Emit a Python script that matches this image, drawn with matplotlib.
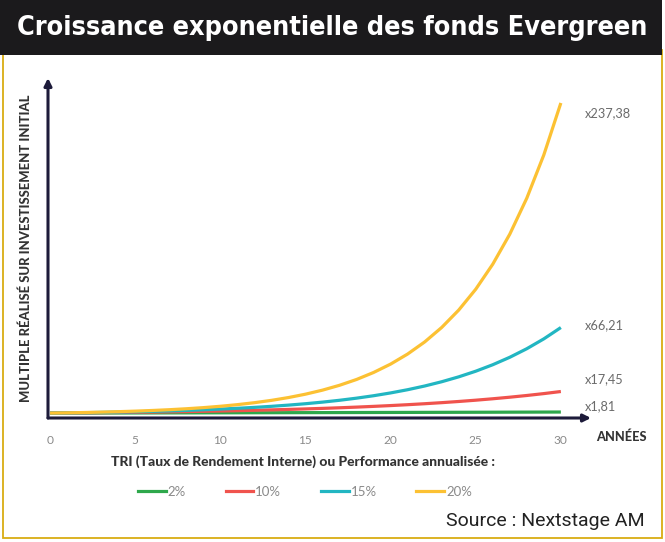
import matplotlib
matplotlib.use("Agg")
import matplotlib.pyplot as plt
from matplotlib.patches import Rectangle
from matplotlib.lines import Line2D
from matplotlib import font_manager as fm

# ---- data ----
years = list(range(0, 31))
series_names = ["2%", "10%", "15%", "20%"]
vals_2 = [1.00, 1.02, 1.04, 1.06, 1.08, 1.10, 1.13, 1.15, 1.17, 1.20, 1.22, 1.24, 1.27, 1.29, 1.32,
          1.35, 1.37, 1.40, 1.43, 1.46, 1.49, 1.52, 1.55, 1.58, 1.61, 1.64, 1.67, 1.71, 1.74, 1.78, 1.81]
vals_10 = [1.00, 1.10, 1.21, 1.33, 1.46, 1.61, 1.77, 1.95, 2.14, 2.36, 2.59, 2.85, 3.14, 3.45, 3.80,
           4.18, 4.59, 5.05, 5.56, 6.12, 6.73, 7.40, 8.14, 8.95, 9.85, 10.83, 11.92, 13.11, 14.42, 15.86, 17.45]
vals_15 = [1.00, 1.15, 1.32, 1.52, 1.75, 2.01, 2.31, 2.66, 3.06, 3.52, 4.05, 4.65, 5.35, 6.15, 7.08,
           8.14, 9.36, 10.76, 12.38, 14.23, 16.37, 18.82, 21.64, 24.89, 28.63, 32.92, 37.86, 43.54, 50.07, 57.58, 66.21]
vals_20 = [1.00, 1.20, 1.44, 1.73, 2.07, 2.49, 2.99, 3.58, 4.30, 5.16, 6.19, 7.43, 8.92, 10.70, 12.84,
           15.41, 18.49, 22.19, 26.62, 31.95, 38.34, 46.01, 55.21, 66.25, 79.50, 95.40, 114.48, 137.37, 164.84, 197.81, 237.38]
end_labels = ["x1,81", "x17,45", "x66,21", "x237,38"]
x_ticks = [0, 5, 10, 15, 20, 25, 30]

title = "Croissance exponentielle des fonds Evergreen"
ylabel = "MULTIPLE RÉALISÉ SUR INVESTISSEMENT INITIAL"
xlabel = "ANNÉES"
legend_title = "TRI (Taux de Rendement Interne) ou Performance annualisée :"
source = "Source : Nextstage AM"

colors = ["#2ea84c", "#f0534d", "#22b6c2", "#fcc133"]
navy = "#1d1b3a"
gray = "#6b6b6b"
dark = "#333333"

# pick a condensed bold font for the title if one is installed
title_fp = None
for f in fm.fontManager.ttflist:
    n = (f.fname + " " + f.name).lower()
    if ("condensed" in n or "narrow" in n) and ("bold" in f.fname.lower() or f.weight in ("bold", 700)):
        if "oblique" in n or "italic" in n:
            continue
        title_fp = fm.FontProperties(fname=f.fname, size=19.4)
        break

W, H = 665, 542
fig = plt.figure(figsize=(W / 100, H / 100), dpi=100)
fig.patch.set_facecolor("white")

def fx(px):
    return px / W

def fy(py):
    return 1 - py / H

# yellow frame
fig.patches.append(Rectangle((fx(3), fy(538)), fx(659), (538 - 50) / H, transform=fig.transFigure,
                             facecolor="none", edgecolor="#d9ad12", lw=1.3, zorder=0))
# title bar
fig.patches.append(Rectangle((0, fy(55)), fx(662), 55 / H, transform=fig.transFigure,
                             facecolor="#1b1a1c", edgecolor="none", zorder=1))
if title_fp is not None:
    fig.text(fx(332), fy(28), title, color="white", ha="center", va="center", fontproperties=title_fp)
else:
    fig.text(fx(332), fy(28), title, color="white", ha="center", va="center",
             family="Roboto", weight="bold", fontsize=19)

ax = fig.add_axes([fx(48), fy(418), fx(591 - 48), (418 - 78) / H])
ax.set_xlim(-0.12, 31.77)
ax.set_ylim(-2.74, 256.4)
for s in ax.spines.values():
    s.set_visible(False)
ax.set_facecolor("none")

all_vals = [vals_2, vals_10, vals_15, vals_20]
offsets = [(17, 4), (17, 9), (17, 2), (17, -7)]
for name, v, c, lab, off in zip(series_names, all_vals, colors, end_labels, offsets):
    ax.plot(years, v, color=c, lw=2.3, solid_capstyle="butt", label=name, zorder=3)
    ax.annotate(lab, xy=(years[-1], v[-1]), xytext=off, textcoords="offset points",
                ha="left", va="center", fontsize=9.2, color=gray, family="Lato")

# axis arrows
ax.annotate("", xy=(1, 0), xytext=(0, 0), xycoords="axes fraction",
            arrowprops=dict(arrowstyle="-|>", color=navy, lw=2.2, mutation_scale=11,
                            shrinkA=0, shrinkB=0), zorder=4)
ax.annotate("", xy=(0, 1), xytext=(0, 0), xycoords="axes fraction",
            arrowprops=dict(arrowstyle="-|>", color=navy, lw=2.2, mutation_scale=11,
                            shrinkA=0, shrinkB=0), zorder=4)

ax.set_xticks(x_ticks)
ax.set_xticklabels([str(t) for t in x_ticks], family="Lato", fontsize=8.6, color="#8a8a8a")
ax.tick_params(axis="x", length=0, pad=12)
ax.set_yticks([])

fig.text(fx(26), fy(248), ylabel, rotation=90, ha="center", va="center",
         fontsize=9.4, weight="black", color=dark, family="Lato")
fig.text(fx(596), fy(437), xlabel, ha="left", va="center", fontsize=9.2,
         weight="black", color=dark, family="Lato")
fig.text(fx(303), fy(462), legend_title, ha="center", va="center", fontsize=10,
         weight="black", color=dark, family="Lato")

handles = [Line2D([], [], color=c, lw=2.3) for c in colors]
leg = fig.legend(handles, series_names, loc="center", bbox_to_anchor=(fx(305), fy(492)),
                 ncol=4, frameon=False, handlelength=2.1, handletextpad=0.15,
                 columnspacing=3.0, prop={"family": "Lato", "size": 9.5})
for t in leg.get_texts():
    t.set_color("#8a8a8a")

fig.text(fx(645), fy(521), source, ha="right", va="center", fontsize=14, color="#222222",
         family="Roboto")

fig.savefig("out.png", dpi=100)
